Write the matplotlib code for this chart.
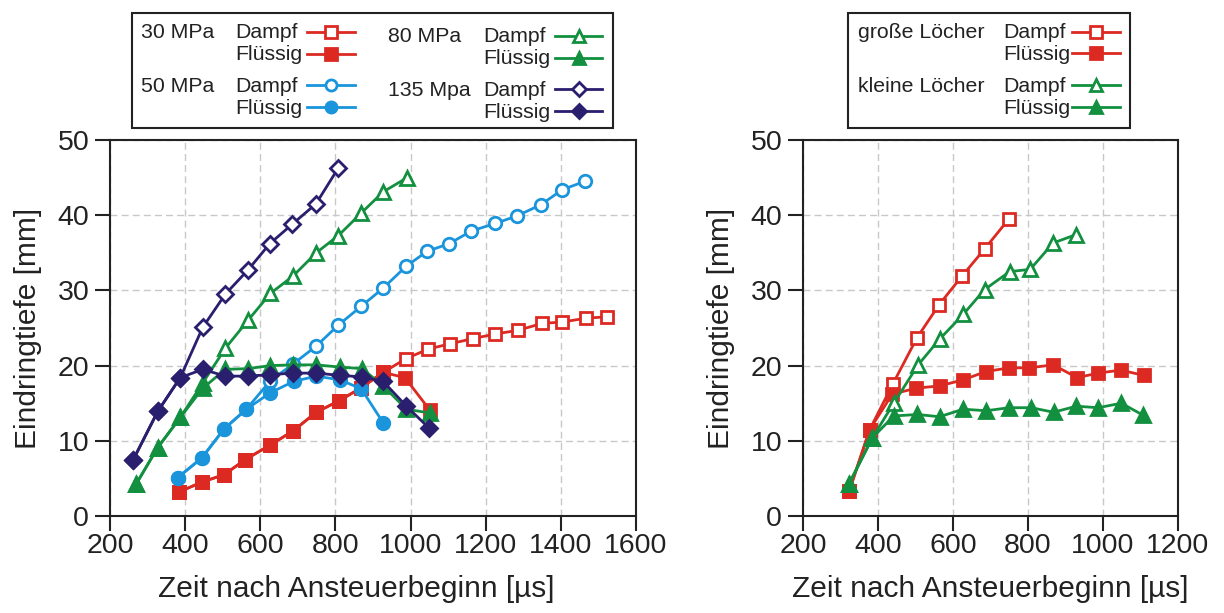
import matplotlib.pyplot as plt
from matplotlib.lines import Line2D
from matplotlib.patches import Rectangle

plt.rcParams['font.family'] = ['Liberation Sans', 'DejaVu Sans']

RED = '#dc2a22'
BLUE = '#1a95dc'
GREEN = '#12903f'
NAVY = '#2a1e6e'

# ---- left chart: injection pressure ----
p30_dampf_x = [384, 444, 504, 560, 625, 687, 749, 809, 867, 927, 987, 1047, 1105, 1167, 1225, 1287, 1349, 1404, 1467, 1524]
p30_dampf_y = [3.2, 4.5, 5.5, 7.5, 9.4, 11.3, 13.8, 15.3, 17.0, 19.1, 20.9, 22.2, 22.9, 23.6, 24.2, 24.7, 25.6, 25.8, 26.3, 26.5]
p30_fl_x = [384, 444, 504, 560, 625, 687, 749, 809, 867, 927, 985, 1051]
p30_fl_y = [3.2, 4.5, 5.5, 7.5, 9.4, 11.3, 13.8, 15.3, 17.0, 19.1, 18.4, 14.1]

p50_dampf_x = [380, 444, 504, 563, 627, 687, 749, 808, 869, 927, 988, 1044, 1102, 1162, 1225, 1283, 1347, 1404, 1464]
p50_dampf_y = [5.1, 7.7, 11.6, 14.2, 18.0, 20.2, 22.6, 25.4, 27.9, 30.3, 33.2, 35.2, 36.2, 37.9, 38.9, 39.9, 41.4, 43.4, 44.5]
p50_fl_x = [380, 444, 504, 563, 627, 689, 749, 813, 869, 927]
p50_fl_y = [5.1, 7.7, 11.6, 14.2, 16.4, 17.9, 18.6, 18.1, 16.9, 12.4]

p80_dampf_x = [269, 327, 387, 447, 507, 567, 627, 687, 749, 808, 869, 927, 991]
p80_dampf_y = [4.2, 9.1, 13.1, 17.7, 22.3, 26.0, 29.6, 31.9, 35.0, 37.3, 40.3, 43.1, 45.0]
p80_fl_x = [269, 327, 387, 447, 507, 567, 627, 687, 749, 812, 871, 927, 989, 1051]
p80_fl_y = [4.2, 9.1, 13.1, 17.0, 19.5, 19.6, 20.0, 20.1, 20.1, 19.8, 19.6, 17.3, 14.2, 13.7]

p135_dampf_x = [262, 327, 387, 447, 507, 567, 625, 685, 748, 808]
p135_dampf_y = [7.5, 13.9, 18.4, 25.1, 29.5, 32.7, 36.2, 38.8, 41.5, 46.3]
p135_fl_x = [262, 327, 387, 447, 507, 567, 627, 687, 749, 812, 871, 927, 989, 1049]
p135_fl_y = [7.5, 13.9, 18.4, 19.5, 18.6, 18.6, 18.8, 19.0, 19.0, 18.7, 18.5, 17.9, 14.6, 11.7]

# ---- right chart: hole size ----
gross_dampf_x = [323, 378, 440, 504, 563, 624, 684, 749]
gross_dampf_y = [3.3, 11.5, 17.6, 23.7, 28.1, 31.9, 35.5, 39.5]
gross_fl_x = [323, 378, 438, 502, 564, 627, 687, 749, 803, 867, 931, 987, 1047, 1109]
gross_fl_y = [3.3, 11.5, 16.2, 17.0, 17.3, 18.1, 19.2, 19.7, 19.7, 20.1, 18.4, 19.0, 19.4, 18.7]
klein_dampf_x = [323, 385, 442, 507, 564, 627, 684, 751, 806, 867, 927]
klein_dampf_y = [4.3, 10.4, 15.0, 20.1, 23.5, 26.8, 30.1, 32.5, 32.8, 36.3, 37.4]
klein_fl_x = [323, 385, 442, 505, 564, 627, 689, 749, 809, 868, 929, 987, 1049, 1107]
klein_fl_y = [4.3, 10.4, 13.3, 13.5, 13.2, 14.2, 14.0, 14.4, 14.4, 13.8, 14.6, 14.4, 15.0, 13.4]

MS = {'s': 9, 'o': 9, '^': 9.5, 'D': 8}


def serie(ax, x, y, color, marker, filled):
    ax.plot(x, y, color=color, lw=2, marker=marker, ms=MS[marker],
            mec=color, mew=2, mfc=color if filled else 'white', zorder=3)


def style(ax, xmax):
    ax.set_xlim(200, xmax)
    ax.set_ylim(0, 50)
    ax.set_xticks(range(200, xmax + 1, 200))
    ax.set_yticks(range(0, 51, 10))
    ax.grid(True, color='#c8c8c8', ls=(0, (5, 3)), lw=1)
    ax.tick_params(direction='out', length=11, width=1.5, labelsize=20.5, color='#222222',
                   labelcolor='#222222')
    ax.tick_params(axis='x', pad=1)
    ax.tick_params(axis='y', pad=4)
    for s in ax.spines.values():
        s.set_linewidth(1.5)
        s.set_color('#222222')
    ax.set_xlabel('Zeit nach Ansteuerbeginn [µs]', fontsize=21.5, color='#222222')
    ax.set_ylabel('Eindringtiefe [mm]', fontsize=21.5, color='#222222')


fig = plt.figure(figsize=(12.24, 6.13), dpi=100)
ax1 = fig.add_axes([110 / 1224, 97 / 613, 526 / 1224, 376 / 613])
ax2 = fig.add_axes([803 / 1224, 97 / 613, 375 / 1224, 376 / 613])

serie(ax1, p30_dampf_x, p30_dampf_y, RED, 's', False)
serie(ax1, p30_fl_x, p30_fl_y, RED, 's', True)
serie(ax1, p50_dampf_x, p50_dampf_y, BLUE, 'o', False)
serie(ax1, p50_fl_x, p50_fl_y, BLUE, 'o', True)
serie(ax1, p80_dampf_x, p80_dampf_y, GREEN, '^', False)
serie(ax1, p80_fl_x, p80_fl_y, GREEN, '^', True)
serie(ax1, p135_dampf_x, p135_dampf_y, NAVY, 'D', False)
serie(ax1, p135_fl_x, p135_fl_y, NAVY, 'D', True)

serie(ax2, gross_dampf_x, gross_dampf_y, RED, 's', False)
serie(ax2, gross_fl_x, gross_fl_y, RED, 's', True)
serie(ax2, klein_dampf_x, klein_dampf_y, GREEN, '^', False)
serie(ax2, klein_fl_x, klein_fl_y, GREEN, '^', True)

style(ax1, 1600)
style(ax2, 1200)
ax1.yaxis.set_label_coords(-0.129, 0.5)
ax2.yaxis.set_label_coords(-0.181, 0.5)
ax1.xaxis.set_label_coords(0.468, -0.158)
ax2.xaxis.set_label_coords(0.5, -0.158)


# ---- legends drawn in pixel coordinates of the figure ----
W, H = 1224, 613


def fx(px):
    return px / W


def fy(py):
    return 1 - py / H


def box(x0, y0, x1, y1):
    fig.add_artist(Rectangle((fx(x0), fy(y1)), fx(x1) - fx(x0), fy(y0) - fy(y1),
                             transform=fig.transFigure, fill=False, ec='#222222', lw=1.5))


def txt(px, py, s):
    fig.text(fx(px), fy(py), s, fontsize=15.3, va='center', ha='left', color='#222222')


def sample(px0, px1, py, color, marker, filled):
    fig.add_artist(Line2D([fx(px0), fx(px1)], [fy(py), fy(py)], transform=fig.transFigure,
                          color=color, lw=2))
    fig.add_artist(Line2D([fx((px0 + px1) / 2)], [fy(py)], transform=fig.transFigure,
                          color=color, marker=marker, ms=MS[marker] - 1, mec=color, mew=2,
                          mfc=color if filled else 'white', ls='none'))


box(132, 13, 613, 128)
left_groups = [
    ('30 MPa', 141, 235, 307, 355, 33, 55, RED, 's'),
    ('50 MPa', 141, 235, 307, 355, 86, 108, BLUE, 'o'),
    ('80 MPa', 388, 483, 555, 602, 37, 59, GREEN, '^'),
    ('135 Mpa', 388, 483, 555, 602, 90, 112, NAVY, 'D'),
]
for name, xg, xt, l0, l1, yd, yf, c, m in left_groups:
    txt(xg, yd, name)
    txt(xt, yd, 'Dampf')
    txt(xt, yf, 'Flüssig')
    sample(l0, l1, yd - 1, c, m, False)
    sample(l0, l1, yf - 1, c, m, True)

box(848, 13, 1130, 128)
right_groups = [
    ('große Löcher', 33, 54, RED, 's'),
    ('kleine Löcher', 86, 108, GREEN, '^'),
]
for name, yd, yf, c, m in right_groups:
    txt(858, yd, name)
    txt(1003, yd, 'Dampf')
    txt(1003, yf, 'Flüssig')
    sample(1072, 1120, yd - 1, c, m, False)
    sample(1072, 1120, yf - 1, c, m, True)

fig.savefig('out.png', dpi=100)
